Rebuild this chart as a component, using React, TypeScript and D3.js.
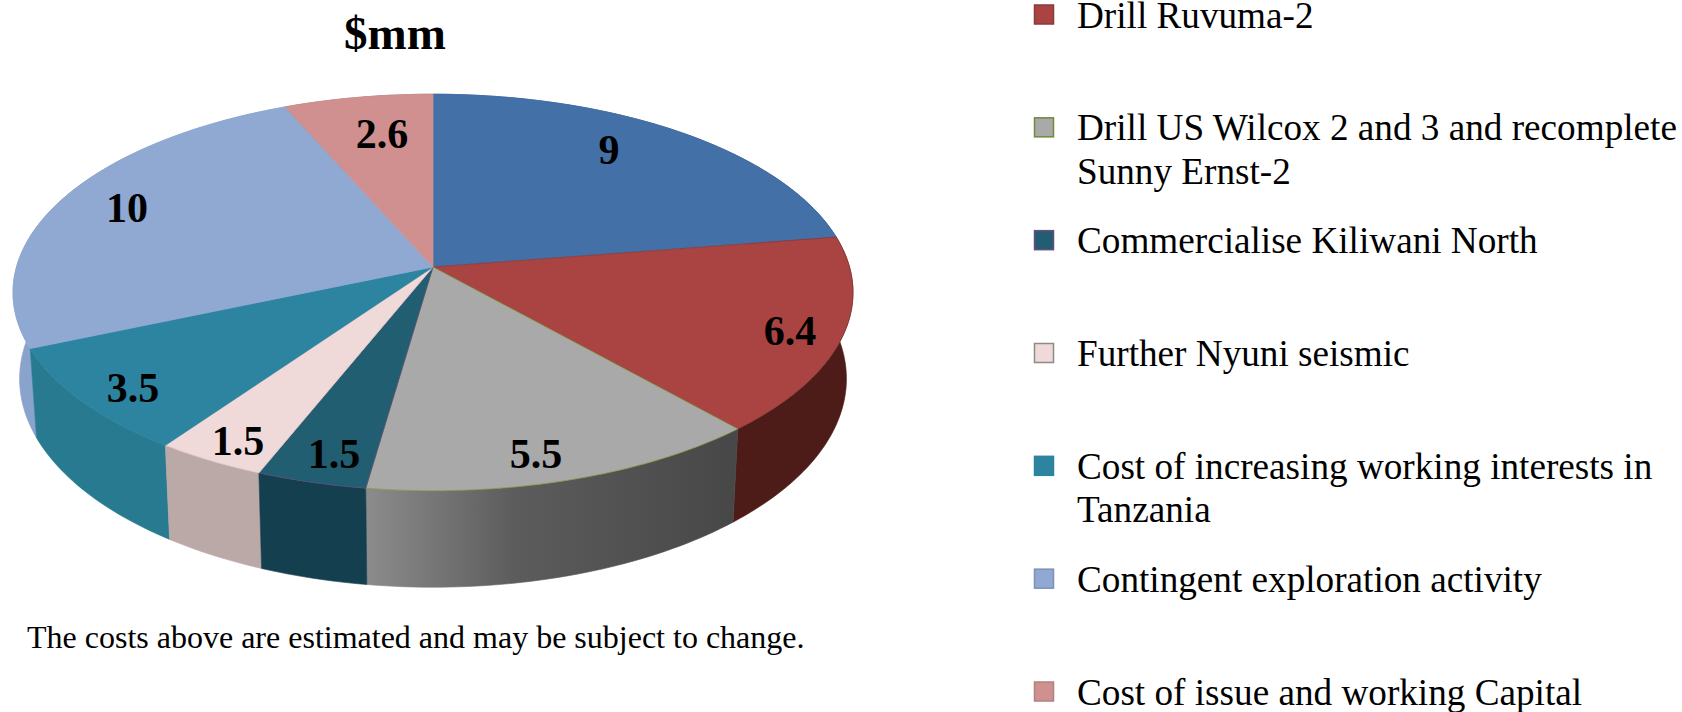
import React from 'react'
import { pie, line, range, scaleLinear } from 'd3'

const values = [9, 6.4, 5.5, 1.5, 1.5, 3.5, 10, 2.6]
const valueLabels = ['9', '6.4', '5.5', '1.5', '1.5', '3.5', '10', '2.6']
const legendRows = [
  ['Drill Ruvuma-2'],
  ['Drill US Wilcox 2 and 3 and recomplete', 'Sunny Ernst-2'],
  ['Commercialise Kiliwani North'],
  ['Further Nyuni seismic'],
  ['Cost of increasing working interests in', 'Tanzania'],
  ['Contingent exploration activity'],
  ['Cost of issue and working Capital'],
]
const topColors = ['#4470a8', '#a94442', '#a9a9a9', '#215e72', '#f0d9d9', '#2d84a0', '#8fa9d2', '#d09090']
const wallColors = ['#2c4a70', '#4d1b18', 'url(#grayWall)', '#143f4e', '#bba9a8', '#287a90', '#8aa3cd', '#8a6060']
const edgeColors = ['#4470a8', '#8a3a38', '#7f9a3f', '#5a4a78', '#d8c4c4', '#2d84a0', '#8fa9d2', '#d09090']
const legendBorders = ['#8a3a38', '#6f8a3a', '#6a4c7f', '#8f8a8a', '#2d84a0', '#7f8fb5', '#b08080']

// label centres, placed by hand to follow the picture
const labelPos = [[609, 150], [790, 331], [536, 454], [334, 454], [238, 441], [133, 388], [127, 208], [382, 134]]

const serif = '"Liberation Serif", serif'
const K = 0.1285

// perspective of the pie disc, top face and bottom face
const topDisc = { cx: 433, cy: 267, rx: 416.5, ry: 195 }
const bottomDisc = { cx: 433, cy: 352, rx: 410, ry: 205 }

function project(disc: typeof topDisc, angle: number, r = 1): [number, number] {
  const u = r * Math.sin(angle)
  const v = -r * Math.cos(angle)
  const s = 1 / (1 - K * v)
  return [disc.cx + disc.rx * u * s, disc.cy + disc.ry * v * s]
}

function arcSamples(start: number, end: number) {
  const n = Math.max(2, Math.ceil((end - start) / 0.02))
  return range(n + 1).map(i => start + ((end - start) * i) / n)
}

const path = line()

export default function App() {
  const arcs = pie<number>().sort(null)(values)
  const legendY = scaleLinear().domain([0, legendRows.length - 1]).range([14.5, 691.5])

  const walls = arcs
    .map((a, i) => ({ a, i }))
    .sort((p, q) => -Math.cos((p.a.startAngle + p.a.endAngle) / 2) - -Math.cos((q.a.startAngle + q.a.endAngle) / 2))

  return (
    <svg width={1682} height={712} style={{ position: 'absolute', left: 0, top: 0 }}>
      <defs>
        <linearGradient id="grayWall" gradientUnits="userSpaceOnUse" x1={366} y1={0} x2={738} y2={0}>
          <stop offset="0" stopColor="#8c8c8c" />
          <stop offset="0.4" stopColor="#5c5c5c" />
          <stop offset="1" stopColor="#474747" />
        </linearGradient>
      </defs>

      <text x={395} y={49} textAnchor="middle" fontFamily={serif} fontWeight="bold" fontSize={47}>$mm</text>

      {walls.map(({ a, i }) => {
        const ts = arcSamples(a.startAngle, a.endAngle)
        const pts = [...ts.map(t => project(topDisc, t)), ...ts.slice().reverse().map(t => project(bottomDisc, t))]
        return <path key={i} d={path(pts) + 'Z'} fill={wallColors[i]} stroke={wallColors[i]} strokeWidth={0.6} />
      })}

      {arcs.map((a, i) => {
        const ts = arcSamples(a.startAngle, a.endAngle)
        const pts: [number, number][] = [[topDisc.cx, topDisc.cy], ...ts.map(t => project(topDisc, t))]
        return <path key={i} d={path(pts) + 'Z'} fill={topColors[i]} stroke={edgeColors[i]} strokeWidth={0.8} strokeLinejoin="round" />
      })}

      {valueLabels.map((l, i) => (
        <text key={i} x={labelPos[i][0]} y={labelPos[i][1]} dy="0.34em" textAnchor="middle"
          fontFamily={serif} fontWeight="bold" fontSize={42}>{l}</text>
      ))}

      <text x={27} y={648} fontFamily={serif} fontSize={32}>The costs above are estimated and may be subject to change.</text>

      {legendRows.map((lines, i) => (
        <g key={i}>
          <rect x={1034.5} y={legendY(i) - 9.5} width={19} height={19} fill={topColors[i + 1]} stroke={legendBorders[i]} strokeWidth={1.5} />
          {lines.map((t, j) => (
            <text key={j} x={1077} y={legendY(i) + 13 + j * 43.5} fontFamily={serif} fontSize={37.2}>{t}</text>
          ))}
        </g>
      ))}
    </svg>
  )
}
